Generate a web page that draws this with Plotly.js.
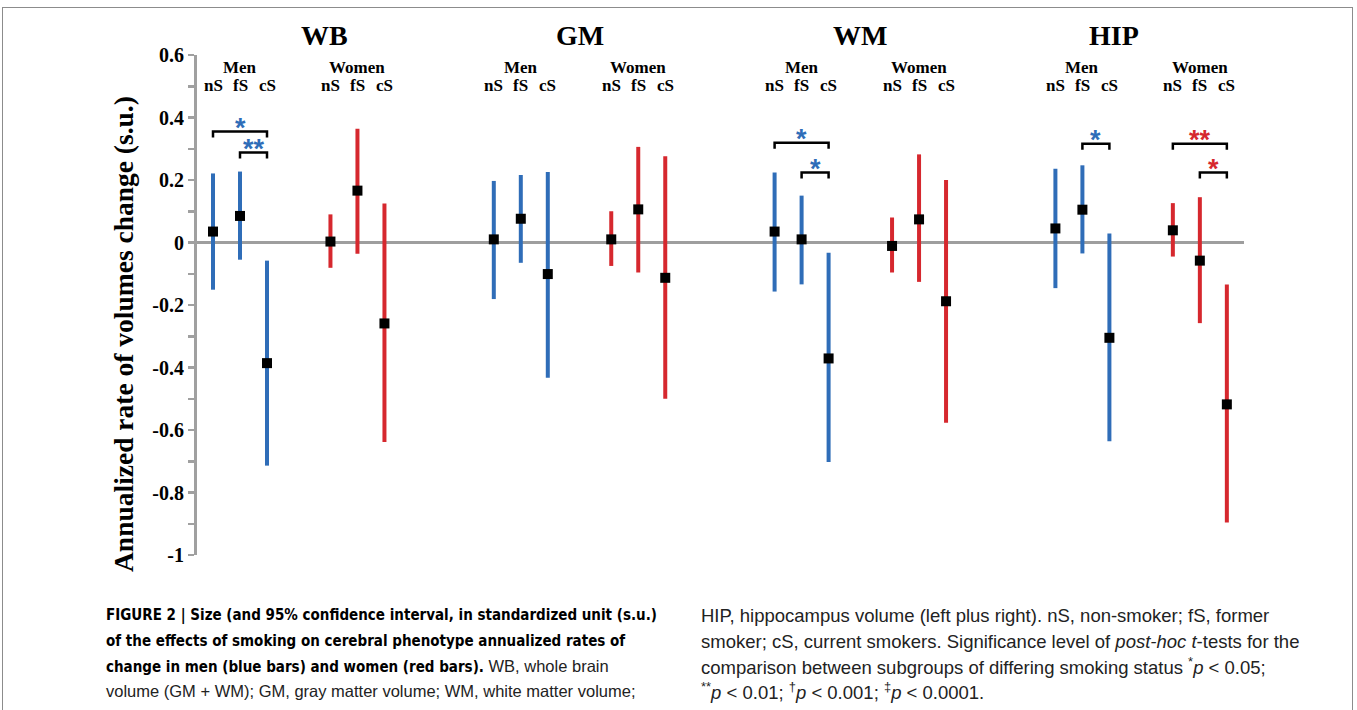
<!DOCTYPE html>
<html><head><meta charset="utf-8">
<script src="https://cdn.plot.ly/plotly-3.0.1.min.js"></script>
<style>
html,body{margin:0;padding:0;background:#fff}
#wrap{position:relative;width:1357px;height:710px;overflow:hidden}
#chart{width:1357px;height:710px}
#frame{position:absolute;left:2px;top:7px;width:1351px;height:720px;border:1.5px solid #8c8c8c;border-bottom:none;pointer-events:none;box-sizing:border-box}
</style>
</head><body><div id="wrap"><div id="chart"></div><div id="frame"></div></div>
<script>
// ---------- data ----------
const regions = ['WB', 'GM', 'WM', 'HIP'];
const sexes = ['Men', 'Women'];
const statuses = ['nS', 'fS', 'cS'];
// order within each region: Men nS, fS, cS, Women nS, fS, cS
const effectWB = [0.035, 0.085, -0.386, 0.003, 0.166, -0.259];
const lowerWB  = [-0.151, -0.055, -0.714, -0.081, -0.036, -0.638];
const upperWB  = [0.221, 0.227, -0.058, 0.090, 0.364, 0.125];

const effectGM = [0.010, 0.076, -0.101, 0.010, 0.106, -0.113];
const lowerGM  = [-0.181, -0.065, -0.433, -0.075, -0.096, -0.500];
const upperGM  = [0.197, 0.216, 0.226, 0.100, 0.306, 0.276];

const effectWM = [0.035, 0.010, -0.371, -0.011, 0.074, -0.188];
const lowerWM  = [-0.157, -0.134, -0.702, -0.096, -0.126, -0.577];
const upperWM  = [0.224, 0.150, -0.033, 0.080, 0.282, 0.200];

const effectHIP = [0.045, 0.105, -0.305, 0.039, -0.058, -0.518];
const lowerHIP  = [-0.146, -0.035, -0.636, -0.045, -0.258, -0.896];
const upperHIP  = [0.236, 0.247, 0.029, 0.126, 0.145, -0.134];

// significance comparisons (post-hoc t-tests)
const sigRegion = ['WB', 'WB', 'WM', 'WM', 'HIP', 'HIP', 'HIP'];
const sigSex    = ['Men', 'Men', 'Men', 'Men', 'Men', 'Women', 'Women'];
const sigFrom   = ['nS', 'fS', 'nS', 'fS', 'fS', 'nS', 'fS'];
const sigTo     = ['cS', 'cS', 'cS', 'cS', 'cS', 'cS', 'cS'];
const sigLabel  = ['*', '**', '*', '*', '*', '**', '*'];
const sigLevel  = [0.355, 0.288, 0.319, 0.224, 0.316, 0.316, 0.224];

const yTickVals = [-1, -0.8, -0.6, -0.4, -0.2, 0, 0.2, 0.4, 0.6];
const yTickText = ['-1', '-0.8', '-0.6', '-0.4', '-0.2', '0', '0.2', '0.4', '0.6'];
const yTitle = 'Annualized rate of volumes change (s.u.)';

const captionLeft = [
  ['FIGURE 2 | Size (and 95% confidence interval, in standardized unit (s.u.)', ''],
  ['of the effects of smoking on cerebral phenotype annualized rates of', ''],
  ['change in men (blue bars) and women (red bars).', ' WB, whole brain'],
  ['', 'volume (GM + WM); GM, gray matter volume; WM, white matter volume;']
];
const captionRight = [
  'HIP, hippocampus volume (left plus right). nS, non-smoker; fS, former',
  'smoker; cS, current smokers. Significance level of <i>post-hoc t</i>-tests for the',
  'comparison between subgroups of differing smoking status <sup>*</sup><i>p</i> &lt; 0.05;',
  '<sup>**</sup><i>p</i> &lt; 0.01; <sup>†</sup><i>p</i> &lt; 0.001; <sup>‡</sup><i>p</i> &lt; 0.0001.'
];

// ---------- layout helpers ----------
const W = 1357, H = 710;
const PL = 197, PR = 1244, PT = 55, PB = 555;
const UNIT = 27, X0PX = 213;
const REGION_GAP = 10.4, SEX_GAP = 4.35;
const colors = {Men: '#2F6DB8', Women: '#D6282E'};
const effects = {WB: effectWB, GM: effectGM, WM: effectWM, HIP: effectHIP};
const lowers = {WB: lowerWB, GM: lowerGM, WM: lowerWM, HIP: lowerHIP};
const uppers = {WB: upperWB, GM: upperGM, WM: upperWM, HIP: upperHIP};

function xPos(region, sex, status) {
  return regions.indexOf(region) * REGION_GAP + sexes.indexOf(sex) * SEX_GAP + statuses.indexOf(status);
}
const px2x = px => (px - PL) / (PR - PL);
const py2y = py => (PB - py) / (PB - PT);
const yRange = [-1, 0.6];
const pyData = py => yRange[1] - (py - PT) / (PB - PT) * (yRange[1] - yRange[0]);
const xRange = [(PL - X0PX) / UNIT, (PR - X0PX) / UNIT];
const x2paper = x => (x - xRange[0]) / (xRange[1] - xRange[0]);

const traces = [];
const annotations = [];
const serif = 'Liberation Serif, Times New Roman, serif';

regions.forEach(r => {
  sexes.forEach((s, si) => {
    const idx = [0, 1, 2].map(k => si * 3 + k);
    const eff = idx.map(i => effects[r][i]);
    const lo = idx.map(i => lowers[r][i]);
    const hi = idx.map(i => uppers[r][i]);
    traces.push({
      type: 'scatter', mode: 'markers',
      x: statuses.map(k => xPos(r, s, k)), y: eff,
      error_y: {type: 'data', symmetric: false,
        array: hi.map((h, j) => h - eff[j]), arrayminus: lo.map((l, j) => eff[j] - l),
        color: colors[s], thickness: 4, width: 0},
      marker: {symbol: 'square', size: 10, color: '#000'},
      hoverinfo: 'x+y', showlegend: false
    });
    annotations.push({x: xPos(r, s, 'fS'), y: pyData(67), xref: 'x', yref: 'y', text: '<b>' + s + '</b>',
      showarrow: false, font: {family: serif, size: 17, color: '#000'}, yanchor: 'middle'});
    statuses.forEach(k => annotations.push({x: xPos(r, s, k), y: pyData(85), xref: 'x', yref: 'y',
      text: '<b>' + k + '</b>', showarrow: false, font: {family: serif, size: 17, color: '#000'}, yanchor: 'middle'}));
  });
  annotations.push({x: x2paper((xPos(r, 'Men', 'nS') + xPos(r, 'Women', 'cS')) / 2), y: py2y(36),
    xref: 'paper', yref: 'paper',
    text: '<b>' + r + '</b>', showarrow: false, font: {family: serif, size: 28, color: '#000'}, yanchor: 'middle'});
});

// significance brackets
const TICK = 0.019;
sigLabel.forEach((lab, i) => {
  const xa = xPos(sigRegion[i], sigSex[i], sigFrom[i]);
  const xb = xPos(sigRegion[i], sigSex[i], sigTo[i]);
  const lv = sigLevel[i];
  traces.push({type: 'scatter', mode: 'lines', x: [xa, xa, xb, xb], y: [lv - TICK, lv, lv, lv - TICK],
    line: {color: '#000', width: 2.5}, hoverinfo: 'skip', showlegend: false});
  annotations.push({x: (xa + xb) / 2, y: lv, xref: 'x', yref: 'y', text: '<b>' + lab + '</b>', showarrow: false,
    font: {family: 'Liberation Sans, Arial, sans-serif', size: 27, color: colors[sigSex[i]]},
    yanchor: 'middle', yshift: 4});
});

// y title
annotations.push({x: px2x(123), y: py2y(334), xref: 'paper', yref: 'paper', text: '<b>' + yTitle + '</b>',
  textangle: -90, showarrow: false, font: {family: serif, size: 27.5, color: '#000'}, xanchor: 'center', yanchor: 'middle'});

// caption
const capY = [615, 641, 666, 691];
const boldSpan = t => t ? "<span style=\"font-family:'Liberation Sans Narrow','Arial Narrow','DejaVu Sans Condensed',sans-serif;font-weight:bold;font-size:15px;color:#000\">" + t + '</span>' : '';
captionLeft.forEach((parts, i) => {
  annotations.push({x: px2x(104), y: py2y(capY[i]), xref: 'paper', yref: 'paper', xanchor: 'left', yanchor: 'middle',
    text: boldSpan(parts[0]) + parts[1], showarrow: false, align: 'left',
    font: {family: 'Liberation Sans, Arial, sans-serif', size: 16.5, color: '#222'}});
});
captionRight.forEach((t, i) => {
  annotations.push({x: px2x(699), y: py2y(capY[i]), xref: 'paper', yref: 'paper', xanchor: 'left', yanchor: 'middle',
    text: t, showarrow: false, align: 'left',
    font: {family: 'Liberation Sans, Arial, sans-serif', size: 18.5, color: '#222'}});
});

const layout = {
  width: W, height: H,
  margin: {l: PL, r: W - PR, t: PT, b: H - PB, pad: 0},
  paper_bgcolor: '#fff', plot_bgcolor: '#fff',
  showlegend: false,
  xaxis: {range: xRange, visible: false, fixedrange: true},
  yaxis: {range: yRange, showgrid: false, zeroline: true, zerolinecolor: '#9e9e9e', zerolinewidth: 3,
    showline: true, linecolor: '#a0a0a0', linewidth: 3,
    tickvals: yTickVals, ticktext: yTickText, ticks: 'outside', ticklen: 6, tickwidth: 2.5, tickcolor: '#a0a0a0',
    minor: {dtick: 0.1, tick0: 0, ticks: 'outside', ticklen: 6, tickwidth: 2.5, tickcolor: '#a0a0a0', showgrid: false},
    tickfont: {family: serif, size: 20, color: '#000', weight: 'bold'}, fixedrange: true},
  annotations: annotations
};

Plotly.newPlot('chart', traces, layout, {displayModeBar: false, staticPlot: true});
</script>
</body></html>
